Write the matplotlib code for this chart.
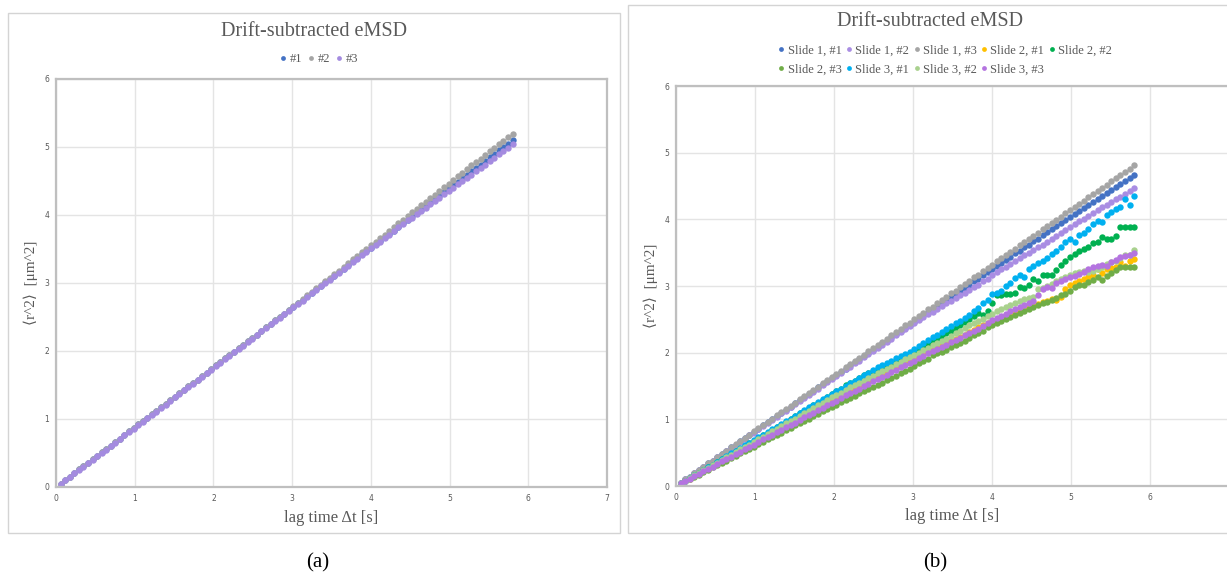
import matplotlib
matplotlib.use('Agg')
import matplotlib.pyplot as plt
from matplotlib.patches import Rectangle

# lag times [s] (100 lags)
lag_time = [0.058, 0.116, 0.174, 0.232, 0.29, 0.348, 0.406, 0.464, 0.522, 0.58,
            0.638, 0.696, 0.754, 0.812, 0.87, 0.928, 0.986, 1.044, 1.102, 1.16,
            1.218, 1.276, 1.334, 1.392, 1.45, 1.508, 1.566, 1.624, 1.682, 1.74,
            1.798, 1.856, 1.914, 1.972, 2.03, 2.088, 2.146, 2.204, 2.262, 2.32,
            2.378, 2.436, 2.494, 2.552, 2.61, 2.668, 2.726, 2.784, 2.842, 2.9,
            2.958, 3.016, 3.074, 3.132, 3.19, 3.248, 3.306, 3.364, 3.422, 3.48,
            3.538, 3.596, 3.654, 3.712, 3.77, 3.828, 3.886, 3.944, 4.002, 4.06,
            4.118, 4.176, 4.234, 4.292, 4.35, 4.408, 4.466, 4.524, 4.582, 4.64,
            4.698, 4.756, 4.814, 4.872, 4.93, 4.988, 5.046, 5.104, 5.162, 5.22,
            5.278, 5.336, 5.394, 5.452, 5.51, 5.568, 5.626, 5.684, 5.742, 5.8]

# (a) eMSD, three movies
a_msd_1 = [0.05, 0.10, 0.15, 0.20, 0.26, 0.31, 0.36, 0.41, 0.46, 0.51,
           0.56, 0.61, 0.66, 0.71, 0.77, 0.82, 0.87, 0.92, 0.97, 1.02,
           1.07, 1.12, 1.17, 1.22, 1.28, 1.33, 1.38, 1.43, 1.48, 1.53,
           1.58, 1.63, 1.68, 1.73, 1.79, 1.84, 1.89, 1.94, 1.99, 2.04,
           2.09, 2.14, 2.19, 2.24, 2.30, 2.35, 2.40, 2.45, 2.50, 2.55,
           2.60, 2.65, 2.70, 2.75, 2.81, 2.86, 2.91, 2.96, 3.01, 3.06,
           3.11, 3.16, 3.21, 3.26, 3.32, 3.37, 3.42, 3.47, 3.52, 3.57,
           3.62, 3.67, 3.72, 3.77, 3.83, 3.88, 3.93, 3.98, 4.03, 4.08,
           4.13, 4.18, 4.23, 4.28, 4.34, 4.39, 4.44, 4.49, 4.54, 4.59,
           4.64, 4.69, 4.74, 4.79, 4.85, 4.90, 4.95, 5.00, 5.05, 5.10]
a_msd_2 = [0.05, 0.10, 0.15, 0.20, 0.26, 0.31, 0.36, 0.41, 0.46, 0.51,
           0.56, 0.61, 0.66, 0.71, 0.77, 0.82, 0.87, 0.92, 0.97, 1.02,
           1.07, 1.12, 1.17, 1.22, 1.28, 1.33, 1.38, 1.43, 1.48, 1.53,
           1.58, 1.63, 1.68, 1.73, 1.79, 1.84, 1.89, 1.94, 1.99, 2.04,
           2.09, 2.14, 2.19, 2.24, 2.30, 2.35, 2.40, 2.45, 2.50, 2.55,
           2.61, 2.66, 2.71, 2.76, 2.82, 2.87, 2.92, 2.97, 3.03, 3.08,
           3.13, 3.18, 3.24, 3.29, 3.35, 3.40, 3.45, 3.50, 3.56, 3.61,
           3.66, 3.71, 3.77, 3.82, 3.88, 3.93, 3.98, 4.04, 4.09, 4.14,
           4.19, 4.25, 4.30, 4.35, 4.41, 4.46, 4.52, 4.57, 4.62, 4.67,
           4.73, 4.78, 4.83, 4.88, 4.94, 4.99, 5.04, 5.09, 5.14, 5.19]
a_msd_3 = [0.05, 0.10, 0.15, 0.20, 0.25, 0.30, 0.35, 0.40, 0.45, 0.50,
           0.55, 0.60, 0.65, 0.70, 0.76, 0.81, 0.86, 0.91, 0.96, 1.01,
           1.06, 1.11, 1.16, 1.21, 1.27, 1.32, 1.37, 1.42, 1.47, 1.52,
           1.57, 1.62, 1.67, 1.72, 1.78, 1.83, 1.88, 1.93, 1.98, 2.03,
           2.08, 2.13, 2.18, 2.23, 2.29, 2.34, 2.39, 2.44, 2.49, 2.54,
           2.59, 2.64, 2.69, 2.74, 2.80, 2.85, 2.90, 2.95, 3.00, 3.05,
           3.10, 3.15, 3.20, 3.25, 3.31, 3.36, 3.41, 3.46, 3.51, 3.56,
           3.61, 3.66, 3.71, 3.76, 3.82, 3.87, 3.92, 3.96, 4.01, 4.06,
           4.11, 4.16, 4.20, 4.25, 4.31, 4.35, 4.40, 4.45, 4.50, 4.55,
           4.59, 4.64, 4.69, 4.74, 4.79, 4.84, 4.89, 4.94, 4.99, 5.04]

# (b) eMSD, three slides x three movies
s1_m1 = [0.05, 0.10, 0.14, 0.19, 0.24, 0.29, 0.34, 0.38, 0.43, 0.48,
         0.53, 0.58, 0.62, 0.67, 0.72, 0.77, 0.81, 0.86, 0.91, 0.96,
         1.00, 1.05, 1.10, 1.14, 1.19, 1.24, 1.29, 1.34, 1.38, 1.43,
         1.48, 1.53, 1.57, 1.62, 1.67, 1.71, 1.76, 1.81, 1.86, 1.90,
         1.95, 2.00, 2.04, 2.09, 2.14, 2.18, 2.23, 2.28, 2.33, 2.37,
         2.42, 2.46, 2.51, 2.56, 2.61, 2.65, 2.70, 2.74, 2.79, 2.84,
         2.88, 2.93, 2.97, 3.02, 3.07, 3.11, 3.16, 3.21, 3.26, 3.30,
         3.35, 3.39, 3.44, 3.49, 3.53, 3.58, 3.62, 3.67, 3.71, 3.76,
         3.81, 3.85, 3.90, 3.94, 3.99, 4.04, 4.08, 4.13, 4.17, 4.22,
         4.26, 4.31, 4.35, 4.40, 4.44, 4.49, 4.53, 4.58, 4.62, 4.66]
s1_m2 = [0.05, 0.10, 0.14, 0.19, 0.24, 0.28, 0.33, 0.38, 0.43, 0.47,
         0.52, 0.57, 0.62, 0.66, 0.71, 0.76, 0.80, 0.85, 0.90, 0.94,
         0.99, 1.04, 1.09, 1.13, 1.18, 1.23, 1.27, 1.32, 1.37, 1.41,
         1.46, 1.51, 1.56, 1.61, 1.65, 1.70, 1.75, 1.79, 1.84, 1.88,
         1.93, 1.98, 2.03, 2.07, 2.12, 2.16, 2.21, 2.26, 2.31, 2.35,
         2.40, 2.45, 2.49, 2.53, 2.58, 2.61, 2.66, 2.70, 2.74, 2.78,
         2.82, 2.86, 2.90, 2.94, 2.98, 3.02, 3.07, 3.11, 3.17, 3.21,
         3.25, 3.29, 3.33, 3.37, 3.42, 3.46, 3.50, 3.54, 3.58, 3.62,
         3.66, 3.70, 3.75, 3.79, 3.84, 3.89, 3.93, 3.97, 4.01, 4.05,
         4.09, 4.14, 4.18, 4.22, 4.26, 4.30, 4.34, 4.38, 4.43, 4.47]
s1_m3 = [0.05, 0.10, 0.14, 0.19, 0.24, 0.29, 0.34, 0.38, 0.43, 0.48,
         0.53, 0.58, 0.63, 0.67, 0.72, 0.77, 0.82, 0.87, 0.91, 0.96,
         1.01, 1.06, 1.11, 1.15, 1.20, 1.25, 1.30, 1.35, 1.39, 1.44,
         1.49, 1.54, 1.59, 1.64, 1.68, 1.73, 1.78, 1.83, 1.88, 1.92,
         1.97, 2.02, 2.07, 2.12, 2.16, 2.21, 2.26, 2.31, 2.36, 2.41,
         2.45, 2.50, 2.55, 2.60, 2.65, 2.69, 2.74, 2.79, 2.84, 2.89,
         2.93, 2.98, 3.03, 3.08, 3.13, 3.17, 3.22, 3.27, 3.32, 3.37,
         3.42, 3.46, 3.51, 3.56, 3.61, 3.66, 3.70, 3.75, 3.80, 3.85,
         3.90, 3.94, 3.99, 4.04, 4.09, 4.14, 4.18, 4.23, 4.28, 4.33,
         4.38, 4.43, 4.47, 4.52, 4.57, 4.62, 4.67, 4.71, 4.76, 4.81]
s2_m1 = [0.04, 0.08, 0.11, 0.15, 0.19, 0.23, 0.26, 0.30, 0.34, 0.38,
         0.41, 0.45, 0.49, 0.53, 0.56, 0.60, 0.64, 0.68, 0.71, 0.75,
         0.79, 0.83, 0.86, 0.90, 0.94, 0.98, 1.01, 1.05, 1.09, 1.13,
         1.16, 1.20, 1.24, 1.28, 1.31, 1.35, 1.39, 1.43, 1.46, 1.50,
         1.53, 1.57, 1.60, 1.64, 1.67, 1.71, 1.74, 1.78, 1.81, 1.85,
         1.88, 1.92, 1.96, 1.99, 2.02, 2.04, 2.07, 2.11, 2.14, 2.18,
         2.21, 2.24, 2.27, 2.31, 2.34, 2.38, 2.41, 2.44, 2.48, 2.51,
         2.54, 2.56, 2.59, 2.61, 2.64, 2.66, 2.68, 2.71, 2.73, 2.76,
         2.78, 2.80, 2.79, 2.84, 2.96, 3.02, 3.05, 3.08, 3.11, 3.13,
         3.16, 3.26, 3.19, 3.26, 3.27, 3.29, 3.36, 3.30, 3.37, 3.40]
s2_m2 = [0.04, 0.08, 0.12, 0.16, 0.20, 0.24, 0.28, 0.32, 0.36, 0.40,
         0.44, 0.48, 0.52, 0.56, 0.60, 0.64, 0.68, 0.72, 0.76, 0.80,
         0.84, 0.88, 0.92, 0.96, 1.00, 1.05, 1.09, 1.13, 1.17, 1.21,
         1.25, 1.29, 1.34, 1.38, 1.42, 1.46, 1.51, 1.55, 1.58, 1.62,
         1.66, 1.69, 1.72, 1.75, 1.79, 1.82, 1.85, 1.88, 1.92, 1.95,
         1.98, 2.02, 2.05, 2.09, 2.13, 2.17, 2.21, 2.25, 2.29, 2.33,
         2.37, 2.42, 2.46, 2.50, 2.55, 2.60, 2.57, 2.63, 2.74, 2.86,
         2.87, 2.88, 2.88, 2.89, 2.98, 2.97, 3.02, 3.10, 3.08, 3.17,
         3.17, 3.16, 3.24, 3.31, 3.38, 3.43, 3.48, 3.52, 3.56, 3.59,
         3.64, 3.66, 3.74, 3.71, 3.70, 3.75, 3.88, 3.88, 3.88, 3.88]
s2_m3 = [0.03, 0.07, 0.10, 0.14, 0.17, 0.21, 0.24, 0.28, 0.31, 0.35,
         0.38, 0.42, 0.45, 0.49, 0.52, 0.56, 0.59, 0.63, 0.66, 0.70,
         0.73, 0.77, 0.80, 0.84, 0.87, 0.91, 0.94, 0.98, 1.01, 1.05,
         1.08, 1.12, 1.15, 1.19, 1.22, 1.26, 1.29, 1.32, 1.35, 1.39,
         1.42, 1.45, 1.49, 1.52, 1.55, 1.59, 1.62, 1.65, 1.69, 1.72,
         1.76, 1.80, 1.84, 1.88, 1.91, 1.96, 1.99, 2.01, 2.04, 2.08,
         2.11, 2.15, 2.18, 2.22, 2.26, 2.29, 2.33, 2.38, 2.42, 2.45,
         2.48, 2.51, 2.54, 2.57, 2.60, 2.63, 2.66, 2.69, 2.71, 2.74,
         2.76, 2.79, 2.82, 2.86, 2.88, 2.93, 2.99, 3.01, 3.02, 3.06,
         3.09, 3.14, 3.09, 3.15, 3.19, 3.24, 3.29, 3.29, 3.29, 3.28]
s3_m1 = [0.04, 0.08, 0.12, 0.16, 0.20, 0.24, 0.28, 0.32, 0.36, 0.41,
         0.45, 0.49, 0.53, 0.57, 0.61, 0.65, 0.69, 0.73, 0.77, 0.81,
         0.85, 0.89, 0.93, 0.97, 1.01, 1.05, 1.10, 1.14, 1.18, 1.22,
         1.26, 1.30, 1.34, 1.38, 1.42, 1.46, 1.50, 1.54, 1.58, 1.62,
         1.66, 1.70, 1.74, 1.78, 1.82, 1.85, 1.88, 1.92, 1.95, 1.98,
         2.01, 2.05, 2.10, 2.14, 2.19, 2.23, 2.27, 2.31, 2.35, 2.40,
         2.45, 2.48, 2.52, 2.57, 2.62, 2.67, 2.74, 2.79, 2.88, 2.89,
         2.92, 3.00, 3.05, 3.12, 3.17, 3.14, 3.26, 3.30, 3.34, 3.38,
         3.42, 3.48, 3.53, 3.59, 3.66, 3.70, 3.66, 3.77, 3.80, 3.85,
         3.93, 3.97, 3.96, 4.07, 4.11, 4.16, 4.19, 4.30, 4.21, 4.35]
s3_m2 = [0.04, 0.08, 0.12, 0.16, 0.20, 0.24, 0.27, 0.31, 0.35, 0.39,
         0.43, 0.47, 0.51, 0.55, 0.59, 0.62, 0.66, 0.70, 0.74, 0.78,
         0.82, 0.86, 0.90, 0.94, 0.98, 1.01, 1.05, 1.09, 1.13, 1.17,
         1.21, 1.25, 1.29, 1.33, 1.37, 1.40, 1.44, 1.48, 1.51, 1.55,
         1.58, 1.62, 1.65, 1.69, 1.72, 1.76, 1.79, 1.83, 1.86, 1.90,
         1.93, 1.97, 2.00, 2.04, 2.07, 2.11, 2.14, 2.17, 2.21, 2.25,
         2.29, 2.33, 2.37, 2.41, 2.44, 2.48, 2.51, 2.55, 2.58, 2.62,
         2.65, 2.68, 2.71, 2.74, 2.77, 2.80, 2.82, 2.84, 2.96, 2.97,
         3.00, 3.03, 3.07, 3.10, 3.14, 3.17, 3.19, 3.21, 3.22, 3.21,
         3.23, 3.25, 3.29, 3.33, 3.36, 3.37, 3.42, 3.46, 3.46, 3.54]
s3_m3 = [0.04, 0.07, 0.11, 0.15, 0.18, 0.22, 0.26, 0.29, 0.33, 0.37,
         0.40, 0.44, 0.48, 0.51, 0.55, 0.59, 0.62, 0.66, 0.70, 0.73,
         0.77, 0.81, 0.84, 0.88, 0.92, 0.95, 0.99, 1.03, 1.06, 1.10,
         1.14, 1.17, 1.21, 1.25, 1.28, 1.32, 1.36, 1.39, 1.43, 1.46,
         1.50, 1.53, 1.57, 1.60, 1.64, 1.67, 1.71, 1.74, 1.78, 1.81,
         1.85, 1.88, 1.92, 1.95, 1.99, 2.02, 2.05, 2.09, 2.12, 2.16,
         2.19, 2.22, 2.26, 2.29, 2.33, 2.36, 2.40, 2.44, 2.49, 2.52,
         2.55, 2.58, 2.62, 2.65, 2.69, 2.72, 2.75, 2.78, 2.86, 2.95,
         2.99, 2.97, 3.04, 3.08, 3.10, 3.13, 3.15, 3.18, 3.21, 3.26,
         3.29, 3.30, 3.31, 3.30, 3.36, 3.39, 3.44, 3.45, 3.47, 3.50]

a_labels = ['#1', '#2', '#3']
a_colors = ['#4472C4', '#A5A5A5', '#A48BE0']
b_labels = ['Slide 1, #1', 'Slide 1, #2', 'Slide 1, #3', 'Slide 2, #1', 'Slide 2, #2',
            'Slide 2, #3', 'Slide 3, #1', 'Slide 3, #2', 'Slide 3, #3']
b_colors = ['#4472C4', '#A98DE3', '#A5A5A5', '#FFC000', '#00B050',
            '#70AD47', '#00B0F0', '#A9D18E', '#B474E0']

serif = ['Liberation Serif', 'DejaVu Serif']
text_gray = '#595959'

fig = plt.figure(figsize=(12.27, 5.75), dpi=100)
W, H = 1227, 575

def px_axes(x0, x1, ytop, ybot):
    return fig.add_axes([x0 / W, (H - ybot) / H, (x1 - x0) / W, (ybot - ytop) / H])

def style_axes(ax):
    ax.set_xlim(0, 7)
    ax.set_ylim(0, 6)
    ax.set_xticks(range(0, 8))
    ax.set_yticks(range(0, 7))
    ax.grid(True, color='#E4E4E4', linewidth=1.0)
    ax.set_axisbelow(True)
    for sp in ax.spines.values():
        sp.set_color('#BFBFBF')
        sp.set_linewidth(1.6)
    ax.tick_params(length=0, labelsize=5.5, labelcolor=text_gray, pad=5)
    ax.text(0.5, -0.075, 'lag time Δt [s]', transform=ax.transAxes, ha='center', va='center',
            fontsize=12, color=text_gray, family=serif)
    ax.text(-0.045, 0.5, '⟨r^2⟩  [μm^2]', transform=ax.transAxes, ha='center', va='center',
            rotation=90, fontsize=11, color=text_gray, family=serif)

# panel frames
fig.patches.append(Rectangle((8 / W, (H - 533) / H), 612 / W, 520 / H, transform=fig.transFigure,
                             fill=False, edgecolor='#D4D4D4', linewidth=1.0))
fig.patches.append(Rectangle((628 / W, (H - 533) / H), 610 / W, 528 / H, transform=fig.transFigure,
                             fill=False, edgecolor='#D4D4D4', linewidth=1.0))

# (a)
ax1 = px_axes(56, 607, 79, 487)
style_axes(ax1)
for y, lab, col in zip([a_msd_1, a_msd_2, a_msd_3], a_labels, a_colors):
    ax1.plot(lag_time, y, 'o', markersize=4.6, markeredgewidth=0, color=col, label=lab)
fig.text(314 / W, 1 - 32 / H, 'Drift-subtracted eMSD', ha='center', va='center',
         fontsize=14.5, color=text_gray, family=serif)
ax1.legend(loc='center', bbox_to_anchor=(319 / W, 1 - 59 / H), bbox_transform=fig.transFigure,
           ncol=3, frameon=False, handlelength=0.5, handletextpad=0.25,
           columnspacing=0.5, markerscale=0.75, labelcolor=text_gray,
           prop={'family': serif, 'size': 9})

# (b)
ax2 = px_axes(676, 1229, 86, 486)
style_axes(ax2)
b_series = [s1_m1, s1_m2, s1_m3, s2_m1, s2_m2, s2_m3, s3_m1, s3_m2, s3_m3]
handles = []
for y, lab, col in zip(b_series, b_labels, b_colors):
    h, = ax2.plot(lag_time, y, 'o', markersize=4.6, markeredgewidth=0, color=col, label=lab)
    handles.append(h)
fig.text(930 / W, 1 - 22 / H, 'Drift-subtracted eMSD', ha='center', va='center',
         fontsize=14.5, color=text_gray, family=serif)
# legend fills column-wise, so reorder to get two rows
order = [0, 5, 1, 6, 2, 7, 3, 8, 4]
ax2.legend([handles[i] for i in order], [b_labels[i] for i in order],
           loc='upper left', bbox_to_anchor=(772 / W, 1 - 38 / H), bbox_transform=fig.transFigure,
           ncol=5, frameon=False, handlelength=0.5, handletextpad=0.25, columnspacing=0.35,
           markerscale=0.75, labelspacing=0.6, borderpad=0, labelcolor=text_gray,
           prop={'family': serif, 'size': 9})

# captions
fig.text(318 / W, 1 - 563 / H, '(a)', ha='center', va='center', fontsize=15, family=serif)
fig.text(935 / W, 1 - 563 / H, '(b)', ha='center', va='center', fontsize=15, family=serif)

fig.savefig('out.png', dpi=100)
